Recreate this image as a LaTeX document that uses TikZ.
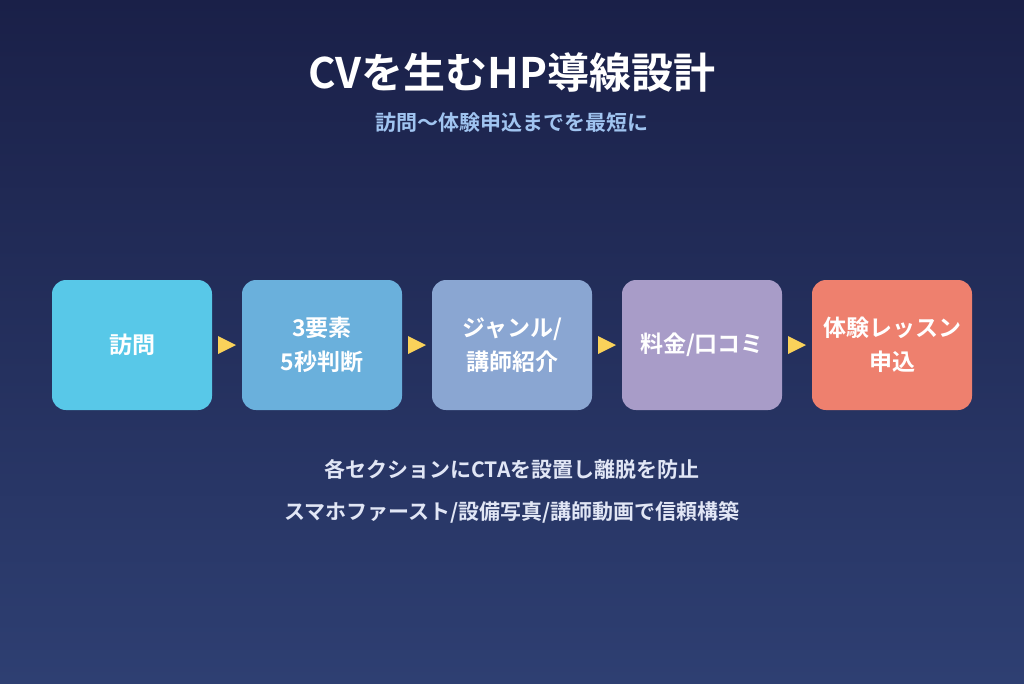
\documentclass[tikz,border=0pt]{standalone}
\usepackage{fontspec}
\setmainfont{Noto Sans CJK JP}[BoldFont={* Bold}]
\newfontfamily\jpb{Noto Sans CJK JP Bold}
\begin{document}
\begin{tikzpicture}[x=1pt,y=-1pt,
  stage/.style={rounded corners=14pt,minimum width=160pt,minimum height=130pt,inner sep=0pt,text=white,font=\jpb\fontsize{23}{34}\selectfont,align=center},
  note/.style={font=\jpb\fontsize{21}{24}\selectfont,text={rgb,255:red,225;green,230;blue,245}}]
\shade[top color={rgb,255:red,26;green,32;blue,72},bottom color={rgb,255:red,46;green,63;blue,114}] (0,0) rectangle (1024,683);
\useasboundingbox (0,0) rectangle (1024,683);
\node (title) at (512,72) {\jpb\fontsize{42}{48}\selectfont\color{white} CVを生むHP導線設計};
\node (sub) at (512,123) {\jpb\fontsize{21}{24}\selectfont\color[RGB]{160,196,240} 訪問〜体験申込までを最短に};
\definecolor{c1}{RGB}{88,200,232}
\definecolor{c2}{RGB}{106,176,220}
\definecolor{c3}{RGB}{138,166,210}
\definecolor{c4}{RGB}{168,156,200}
\definecolor{c5}{RGB}{238,128,110}
\node[stage,fill=c1] (a) at (132,345) {訪問};
\node[stage,fill=c2] (b) at (322,345) {3要素\\5秒判断};
\node[stage,fill=c3] (c) at (512,345) {ジャンル/\\講師紹介};
\node[stage,fill=c4] (d) at (702,345) {料金/口コミ};
\node[stage,fill=c5] (e) at (892,345) {体験レッスン\\申込};
\foreach \p/\q in {a/b,b/c,c/d,d/e}{
  \path (\p.east) -- (\q.west) coordinate[pos=0.5] (m\p);
  \fill[fill={rgb,255:red,250;green,210;blue,90}] ([xshift=-9pt,yshift=-9pt]m\p) -- ([xshift=9pt]m\p) -- ([xshift=-9pt,yshift=9pt]m\p) -- cycle;
}
\node[note] (n1) at (512,469) {各セクションにCTAを設置し離脱を防止};
\node[note] (n2) at (512,512) {スマホファースト/設備写真/講師動画で信頼構築};
\end{tikzpicture}
\end{document}
